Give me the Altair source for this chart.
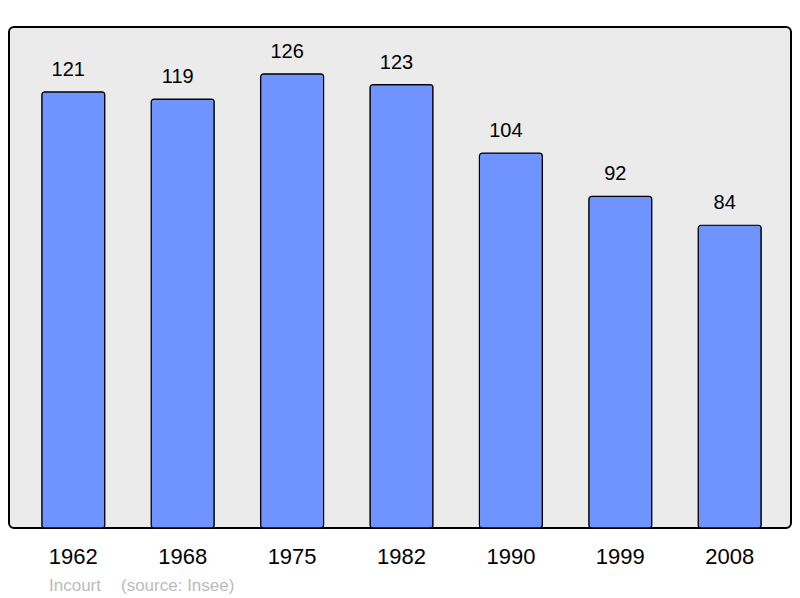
import altair as alt
import pandas as pd

years = ["1962", "1968", "1975", "1982", "1990", "1999", "2008"]
population = [121, 119, 126, 123, 104, 92, 84]
footer_texts = ["Incourt", "(source: Insee)"]

df = pd.DataFrame({"year": years, "pop": population})

x = alt.X("year:N", sort=years, title=None,
          scale=alt.Scale(paddingInner=0.424, paddingOuter=0.286, align=0.524),
          axis=alt.Axis(labelAngle=0, domain=False, ticks=False, labelFontSize=22,
                        labelFont="Liberation Sans", labelColor="black", labelPadding=18))
y = alt.Y("pop:Q", title=None, scale=alt.Scale(domain=[0, 139], nice=False), axis=None)

bars = alt.Chart(df).mark_bar(fill="#7094ff", stroke="black", strokeWidth=1.2,
                              cornerRadius=3).encode(x=x, y=y)
labels = alt.Chart(df).mark_text(dy=-16, dx=-5, fontSize=20, font="Liberation Sans",
                                 color="black", baseline="alphabetic").encode(
    x=x, y=y, text="pop:Q")
foot1 = alt.Chart(pd.DataFrame({"t": [footer_texts[0]]})).mark_text(
    align="left", baseline="middle", fontSize=17, font="Liberation Sans",
    color="#bbbbbb", clip=False).encode(
    x=alt.value(40), y=alt.value(559), text="t:N")
foot2 = alt.Chart(pd.DataFrame({"t": [footer_texts[1]]})).mark_text(
    align="left", baseline="middle", fontSize=17, font="Liberation Sans",
    color="#bbbbbb", clip=False).encode(
    x=alt.value(112), y=alt.value(559), text="t:N")

chart = alt.layer(bars, labels, foot1, foot2).properties(
    width=782, height=501,
    padding={"left": 1, "top": 19, "right": 1, "bottom": 70},
    autosize=alt.AutoSizeParams(type="none"),
).configure_view(fill="#ebebeb", stroke="black", strokeWidth=2, cornerRadius=5)

chart.save("out.html", embed_options={"renderer": "svg", "actions": False})
